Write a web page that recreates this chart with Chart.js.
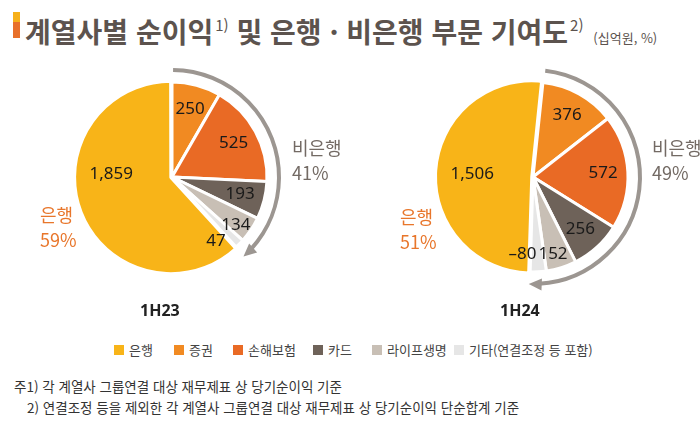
<!DOCTYPE html>
<html lang="ko">
<head>
<meta charset="utf-8">
<script src="https://cdn.jsdelivr.net/npm/chart.js@4.4.1/dist/chart.umd.min.js"></script>
<style>
  body { margin: 0; width: 700px; height: 431px; background: #fff; position: relative; overflow: hidden;
         font-family: "Noto Sans CJK KR", "Noto Sans", sans-serif; }
  .abs { position: absolute; white-space: nowrap; }
  #bar { left: 13px; top: 12px; width: 7px; height: 26px; background: linear-gradient(#F6B01A 0 38%, #E8702A 38% 100%); }
  #title { left: 25px; top: 4px; font-size: 28px; line-height: 42px; font-weight: 700; color: #5C534E; letter-spacing: 0; }
  #title sup { font-size: 15px; font-weight: 400; vertical-align: 12px; margin-left: 2px; }
  #title small { font-size: 13px; font-weight: 400; margin-left: 2px; }
  canvas { position: absolute; }
  .side { font-size: 18px; line-height: 25px; }
  .nb { color: #736A64; }
  .bk { color: #E8762B; }
  .period { font-size: 16px; font-weight: 700; color: #222; font-family: "Noto Sans", sans-serif; }
  .lg { top: 340px; font-size: 13px; line-height: 20px; color: #444; display: flex; align-items: center; }
  .lg i { display: inline-block; width: 10px; height: 10px; margin-right: 5px; }
  .note { font-size: 13.5px; color: #333; }
</style>
</head>
<body>
<div id="bar" class="abs"></div>
<div id="title" class="abs">계열사별 순이익<sup>1)</sup> 및 은행 · 비은행 부문 기여도<sup>2)</sup> <small>(십억원, %)</small></div>

<canvas id="c1" width="260" height="260" style="left:42px; top:47px;"></canvas>
<canvas id="c2" width="260" height="260" style="left:403px; top:47px;"></canvas>

<div class="abs side nb" style="left:292px; top:135px;">비은행<br>41%</div>
<div class="abs side bk" style="left:40px; top:202px;">은행<br>59%</div>
<div class="abs side nb" style="left:652px; top:135px;">비은행<br>49%</div>
<div class="abs side bk" style="left:400px; top:204px;">은행<br>51%</div>

<div class="abs period" style="left:140px; top:299px;">1H23</div>
<div class="abs period" style="left:500px; top:299px;">1H24</div>

<div class="abs note" style="left:14px; top:376px;">주1) 각 계열사 그룹연결 대상 재무제표 상 당기순이익 기준</div>
<div class="abs note" style="left:27px; top:397px;">2) 연결조정 등을 제외한 각 계열사 그룹연결 대상 재무제표 상 당기순이익 단순합계 기준</div>

<script>
// categories and values (십억원)
const categories = ['은행', '증권', '손해보험', '카드', '라이프생명', '기타(연결조정 등 포함)'];
const colors = ['#F8B418', '#F18A22', '#E96A25', '#6E6259', '#C8BFB5', '#E6E6E6'];
const values1H23 = [1859, 250, 525, 193, 134, 47];
const values1H24 = [1506, 376, 572, 256, 152, -80];

// legend item left edges (layout only)
const legendX = [114, 174, 233, 313, 372, 454];

categories.forEach((name, i) => {
    const item = document.createElement('div');
    item.className = 'abs lg';
    item.style.left = legendX[i] + 'px';
    item.innerHTML = '<i style="background:' + colors[i] + '"></i>' + name;
    document.body.appendChild(item);
});

// bank slice goes last so the non-bank slices start at the top
function rotate(arr) {
    return arr.slice(1).concat(arr.slice(0, 1));
}

function fmt(v) {
    const s = Math.abs(v).toLocaleString('en-US');
    return v < 0 ? '\u2013' + s : s;
}

// value labels inside slices
const sliceLabels = {
    id: 'sliceLabels',
    afterDatasetsDraw(chart) {
        const ctx = chart.ctx;
        const meta = chart.getDatasetMeta(0);
        const raw = chart.data.datasets[0].data;
        const last = meta.data.length - 1;
        ctx.save();
        ctx.font = '17px "Noto Sans", sans-serif';
        ctx.fillStyle = '#1a1a1a';
        ctx.textAlign = 'center';
        ctx.textBaseline = 'middle';
        meta.data.forEach((arc, i) => {
            const p = arc.getProps(['x', 'y', 'startAngle', 'endAngle', 'outerRadius'], true);
            const sweep = p.endAngle - p.startAngle;
            let ang = (p.startAngle + p.endAngle) / 2;
            let r = p.outerRadius * 0.74;
            if (i === last) {
                ang = Math.PI + 0.05;
                r = p.outerRadius * 0.64;
            } else if (sweep < 0.2) {
                ang += 0.19;
                r = p.outerRadius * 0.82;
            } else if (sweep < 0.4) {
                ang += 0.05;
                r = p.outerRadius * 0.84;
            }
            ctx.fillText(fmt(raw[i]), p.x + Math.cos(ang) * r, p.y + Math.sin(ang) * r);
        });
        ctx.restore();
    }
};

// curved arrow around the non-bank slices
const arcArrow = {
    id: 'arcArrow',
    afterDatasetsDraw(chart) {
        const ctx = chart.ctx;
        const arcs = chart.getDatasetMeta(0).data;
        const first = arcs[0].getProps(['x', 'y', 'startAngle', 'outerRadius'], true);
        const lastNb = arcs[arcs.length - 2].getProps(['endAngle'], true);
        const cx = first.x, cy = first.y;
        const R = first.outerRadius + 12;
        const a0 = first.startAngle + 0.01;
        const a1 = lastNb.endAngle + 0.01;
        const headLen = 13, headW = 6;
        const aLine = a1 - headLen / R * 0.8;
        ctx.save();
        ctx.strokeStyle = '#9C9691';
        ctx.fillStyle = '#9C9691';
        ctx.lineWidth = 4;
        ctx.beginPath();
        ctx.arc(cx, cy, R, a0, aLine);
        ctx.stroke();
        // head
        const tx = cx + Math.cos(a1) * R, ty = cy + Math.sin(a1) * R;
        const dx = -Math.sin(a1), dy = Math.cos(a1);
        const bx = tx - dx * headLen, by = ty - dy * headLen;
        const nx = Math.cos(a1), ny = Math.sin(a1);
        ctx.beginPath();
        ctx.moveTo(tx, ty);
        ctx.lineTo(bx + nx * headW, by + ny * headW);
        ctx.lineTo(bx - nx * headW, by - ny * headW);
        ctx.closePath();
        ctx.fill();
        ctx.restore();
    }
};

function makePie(id, values, rotation) {
    const data = rotate(values);
    const offsets = data.map((v, i) => i === data.length - 1 ? 5 : 0);
    return new Chart(document.getElementById(id), {
        type: 'pie',
        data: {
            labels: rotate(categories),
            datasets: [{
                data: data,
                backgroundColor: rotate(colors),
                borderColor: '#ffffff',
                borderWidth: 3,
                offset: offsets,
                radius: 95
            }]
        },
        options: {
            responsive: false,
            animation: false,
            rotation: rotation,
            layout: { padding: 0 },
            plugins: { legend: { display: false }, tooltip: { enabled: false } }
        },
        plugins: [sliceLabels, arcArrow]
    });
}

makePie('c1', values1H23, 0);
makePie('c2', values1H24, 6);
</script>
</body>
</html>
